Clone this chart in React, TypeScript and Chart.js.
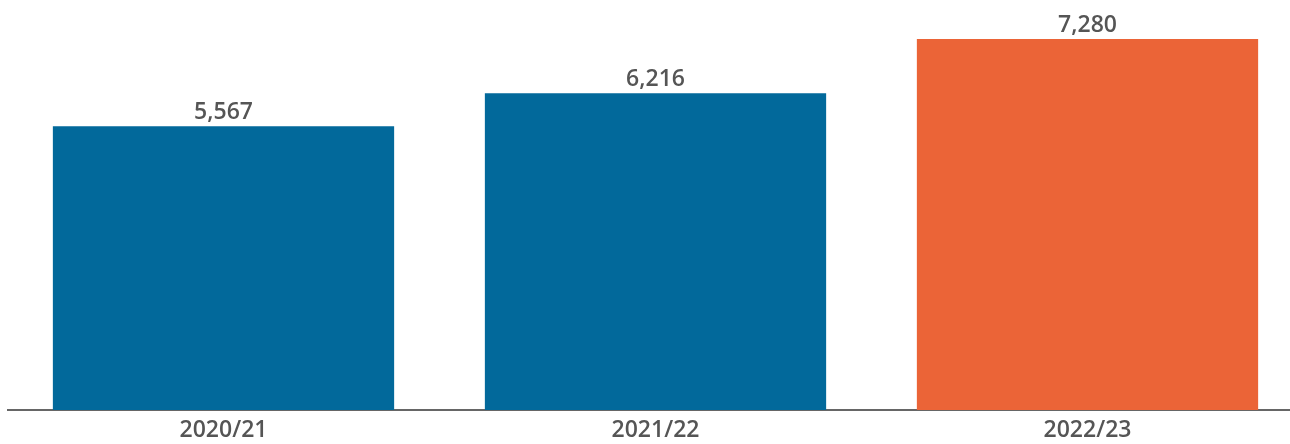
import React, { useEffect, useRef } from "react";
import { Chart, registerables } from "chart.js";

Chart.register(...registerables);

const categories = ["2020/21", "2021/22", "2022/23"];
const values = [5567, 6216, 7280];
const barColors = ["#02699b", "#02699b", "#eb6437"];

const valueLabels = {
  id: "valueLabels",
  afterDatasetsDraw(chart: any) {
    const ctx = chart.ctx;
    const meta = chart.getDatasetMeta(0);
    ctx.save();
    ctx.font = "600 23px 'Open Sans'";
    ctx.fillStyle = "#555555";
    ctx.textAlign = "center";
    ctx.textBaseline = "alphabetic";
    meta.data.forEach((bar: any, i: number) => {
      ctx.fillText(values[i].toLocaleString("en-US"), bar.x, bar.y - 7);
    });
    ctx.restore();
  },
};

export default function App() {
  const ref = useRef<HTMLCanvasElement>(null);
  useEffect(() => {
    if (!ref.current) return;
    const chart = new Chart(ref.current, {
      type: "bar",
      data: {
        labels: categories,
        datasets: [
          {
            data: values,
            backgroundColor: barColors,
            categoryPercentage: 1,
            barPercentage: 0.79,
          },
        ],
      },
      options: {
        animation: false,
        responsive: false,
        maintainAspectRatio: false,
        layout: { padding: { top: 39, left: 7.5, right: 6.5, bottom: -6 } },
        plugins: { legend: { display: false }, tooltip: { enabled: false } },
        scales: {
          x: {
            grid: { display: false, drawTicks: false },
            border: { display: true, color: "#666666", width: 2 },
            ticks: {
              color: "#555555",
              font: { family: "'Open Sans'", size: 23, weight: "600", lineHeight: 1 },
              padding: 8.5,
            },
          },
          y: {
            display: false,
            min: 0,
            max: 7280,
          },
        },
      },
      plugins: [valueLabels],
    });
    return () => chart.destroy();
  }, []);
  return (
    <div
      style={{
        position: "absolute",
        left: 0,
        top: 0,
        width: 1290,
        height: 444,
        overflow: "hidden",
        background: "#ffffff",
      }}
    >
      <canvas ref={ref} width={1310} height={444} style={{ display: "block" }} />
    </div>
  );
}
